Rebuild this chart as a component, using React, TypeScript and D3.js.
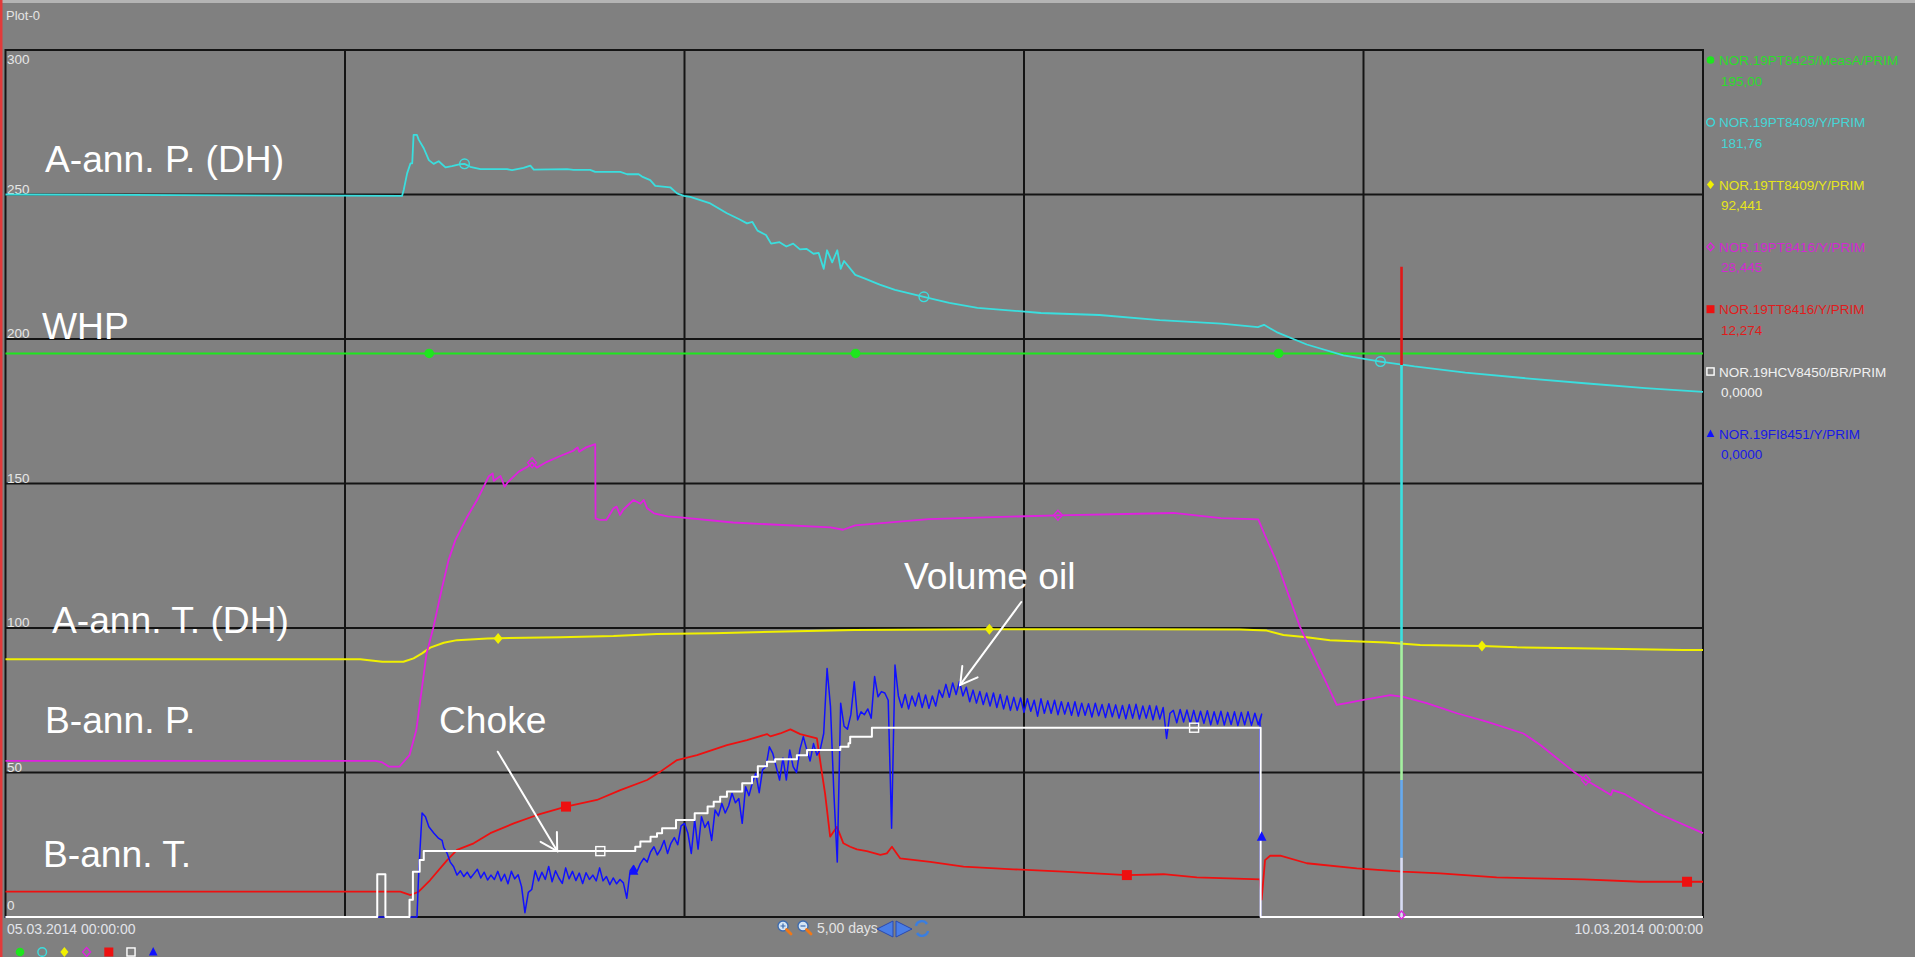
import React from "react";
import * as d3 from "d3";

// ---------- DATA ----------
const yTicks = [0, 50, 100, 150, 200, 250, 300];
const xGridDays = [1, 2, 3, 4];
const startLabel = "05.03.2014 00:00:00";
const endLabel = "10.03.2014 00:00:00";
const spanLabel = "5,00 days";
const plotTitle = "Plot-0";

const legendNames = [
  "NOR.19PT8425/MeasA/PRIM",
  "NOR.19PT8409/Y/PRIM",
  "NOR.19TT8409/Y/PRIM",
  "NOR.19PT8416/Y/PRIM",
  "NOR.19TT8416/Y/PRIM",
  "NOR.19HCV8450/BR/PRIM",
  "NOR.19FI8451/Y/PRIM",
];
const legendValues = ["195,00", "181,76", "92,441", "28,445", "12,274", "0,0000", "0,0000"];

// [day since 05.03.2014, value]
const whpData: number[][] = [[0, 195], [5, 195]];

const aannPData: number[][] = [
  [0, 250], [1.168, 249.5], [1.173, 251.6], [1.183, 257.3], [1.193, 260.8], [1.198, 260.8],
  [1.202, 270.6], [1.212, 270.6], [1.217, 269], [1.232, 266], [1.247, 261.9], [1.261, 260.6],
  [1.276, 261.5], [1.296, 259.4], [1.315, 259.8], [1.34, 260.5], [1.352, 260.6], [1.369, 259.6],
  [1.399, 258.8], [1.477, 258.8], [1.492, 258.4], [1.526, 259.2], [1.546, 260], [1.556, 258.6],
  [1.654, 258.8], [1.673, 258.5], [1.722, 258.5], [1.737, 257.8], [1.811, 257.8], [1.831, 257],
  [1.865, 257], [1.875, 256.2], [1.899, 255], [1.914, 253], [1.958, 252.5], [1.978, 250.4],
  [1.998, 249.5], [2.017, 249.2], [2.076, 246.9], [2.125, 243.5], [2.16, 241.5], [2.184, 240],
  [2.2, 240.5], [2.215, 237.5], [2.24, 236], [2.255, 233], [2.28, 233.5], [2.3, 232],
  [2.32, 233], [2.34, 231], [2.359, 231.2], [2.38, 229.5], [2.395, 229.8], [2.41, 224.3],
  [2.42, 230.7], [2.435, 226.5], [2.45, 230.7], [2.46, 224.3], [2.47, 227], [2.503, 222.2],
  [2.53, 221], [2.575, 218.8], [2.62, 217], [2.705, 214.6], [2.78, 212.5], [2.863, 210.8],
  [3.05, 209], [3.222, 208.3], [3.4, 206.5], [3.581, 205.3], [3.689, 204.1], [3.707, 204.9],
  [3.744, 202.4], [3.833, 198.1], [3.941, 194.3], [4.05, 192.2], [4.15, 190.5], [4.3, 188.4],
  [4.48, 186.4], [4.66, 184.6], [4.83, 183], [5, 181.7],
];

const aannTData: number[][] = [
  [0, 89.2], [1.045, 89.2], [1.11, 88.3], [1.172, 88.3], [1.202, 89.5], [1.227, 91.2],
  [1.251, 93.2], [1.291, 94.9], [1.33, 95.8], [1.42, 96.4], [1.634, 96.8], [1.791, 97.2],
  [1.919, 97.9], [2.086, 98.2], [2.5, 99.3], [2.9, 99.6], [3.3, 99.6], [3.636, 99.5],
  [3.715, 99.1], [3.764, 97.6], [3.833, 96.8], [3.901, 95.8], [3.99, 95.3], [4.068, 95],
  [4.167, 94.1], [4.349, 93.8], [4.452, 93.3], [4.629, 93], [4.94, 92.4], [5, 92.4],
];

const bannPData: number[][] = [
  [0, 54], [1.09, 54], [1.11, 53.5], [1.13, 52], [1.16, 52], [1.19, 56], [1.21, 64.7],
  [1.24, 91], [1.26, 100], [1.286, 114], [1.305, 123.5], [1.325, 130.4], [1.36, 138.5],
  [1.389, 144.3], [1.404, 147.8], [1.423, 152.4], [1.435, 153.5], [1.438, 150.9],
  [1.458, 152.6], [1.47, 148.9], [1.48, 150.5], [1.512, 154.1], [1.54, 156], [1.551, 157.2],
  [1.565, 155.5], [1.595, 157.5], [1.634, 159.5], [1.673, 161.4], [1.685, 162.5], [1.69, 161],
  [1.71, 162.5], [1.737, 163.6], [1.738, 137.9], [1.75, 137.4], [1.77, 137.4], [1.791, 141.4],
  [1.8, 142], [1.81, 139.1], [1.82, 141], [1.85, 144.3], [1.87, 143], [1.88, 144.3],
  [1.89, 141.4], [1.91, 139.7], [1.95, 138.6], [1.988, 138.3], [2.143, 136.5], [2.43, 134.8],
  [2.467, 134], [2.503, 135.5], [2.719, 137.7], [3.1, 139], [3.44, 139.8], [3.58, 138],
  [3.69, 137.6], [3.71, 132], [3.744, 123], [3.813, 100.4], [3.921, 73.4], [3.95, 74],
  [4.0, 75.1], [4.079, 76.8], [4.117, 76.2], [4.186, 74], [4.275, 70.5], [4.363, 67.6],
  [4.471, 63.5], [4.521, 59.5], [4.619, 50.3], [4.655, 47.4], [4.729, 42.2], [4.734, 43.9],
  [4.77, 42.5], [4.866, 35.9], [5, 29],
];

const bannTData: number[][] = [
  [0, 8.75], [1.163, 8.75], [1.193, 7.6], [1.217, 8.75], [1.251, 12.8], [1.301, 19.7],
  [1.33, 23.2], [1.379, 25.5], [1.428, 29], [1.497, 32.4], [1.566, 35.3], [1.651, 38.2],
  [1.742, 40.5], [1.811, 43.9], [1.89, 47.4], [1.929, 50.3], [1.978, 54.3], [2.037, 56],
  [2.125, 59.5], [2.184, 61.2], [2.243, 63.3], [2.253, 62.5], [2.282, 63.5], [2.312, 64.9],
  [2.341, 63.3], [2.39, 61.8], [2.405, 49.7], [2.414, 42.8], [2.429, 27.8], [2.449, 31.2],
  [2.468, 25.5], [2.488, 24.3], [2.508, 23.4], [2.537, 22.8], [2.577, 21.5], [2.596, 22],
  [2.611, 24.3], [2.635, 20.3], [2.724, 19.1], [2.822, 17.4], [2.969, 16.5], [3.116, 15.7],
  [3.303, 14.5], [3.411, 14.8], [3.509, 13.7], [3.695, 13.0], [3.7, 6], [3.71, 19.7],
  [3.725, 21.2], [3.755, 21.2], [3.833, 18.6], [3.98, 16.8], [4.115, 15.7], [4.226, 15.1],
  [4.392, 13.7], [4.648, 13.0], [4.815, 12.2], [5, 12.2],
];

// step points (value holds until next point)
const chokeData: number[][] = [
  [0, 0], [1.095, 14.8], [1.119, 0], [1.19, 6], [1.2, 15.7], [1.22, 19.7], [1.232, 22.8],
  [1.855, 24.3], [1.87, 26.1], [1.9, 27.8], [1.919, 29], [1.934, 30.7], [1.975, 33.6],
  [2.03, 35.9], [2.068, 38.2], [2.086, 39.9], [2.105, 41.6], [2.125, 43.4], [2.17, 46.3],
  [2.199, 48.5], [2.216, 52.2], [2.243, 53.7], [2.267, 54.6], [2.331, 56], [2.361, 57.8],
  [2.459, 58.9], [2.483, 60.1], [2.488, 62.4], [2.552, 65.5], [3.697, 0], [5, 0],
];

// volume oil: start, sampled section (every 0.01 day from 1.33), end
const volHead: number[][] = [
  [0, 0], [1.212, 0], [1.217, 15], [1.227, 36], [1.237, 34.7], [1.247, 31.2], [1.262, 29],
  [1.276, 27.2], [1.286, 26.5], [1.291, 24], [1.301, 22], [1.31, 19], [1.32, 17.4],
];
const volSampleStart = 1.33;
const volSampleStep = 0.01;
const volSamples: number[] = [
  14.5, 16, 14, 15.5, 13.5, 15, 16.5, 13.5, 15.5, 12.8,
  14.5, 13, 15.8, 12.5, 14.8, 11.5, 15.8, 13.2, 14.6, 10.5,
  1.5, 8.5, 9.5, 16, 12.5, 15.5, 13, 17.5, 12.2, 16,
  13.5, 11.6, 17, 13.2, 15.8, 12.6, 15.2, 11.6, 15.3, 13,
  14.5, 12.5, 17, 12.5, 14, 11.2, 13.5, 11.5, 13, 11.8,
  6.5, 16, 17.8, 15.7, 18.5, 20.3, 19, 22.5, 24.3, 21.5,
  23.5, 26.5, 22, 25.5, 27.5, 25, 31.5, 32.4, 29, 22,
  33.6, 23.5, 34.7, 31, 33, 26.5, 37, 35, 39.3, 36,
  38.5, 42.8, 39.5, 41, 32.4, 45.1, 42, 46.5, 49.7, 43,
  51, 52, 58.9, 56.6, 52, 47.4, 55, 47.4, 57.8, 52,
  50, 58, 62.4, 58, 54, 60, 56, 58, 63.5, 86,
  72.8, 42.8, 19, 74, 66, 65, 70, 81.4, 68.2, 71,
  70, 72, 68.8, 83.2, 76.2, 78, 77.5, 75, 30.7, 87.2,
  // 2.62 ..
  76.5, 72.5, 77, 72, 76.5, 73, 77.5, 72.5, 76.8, 72.2,
  76.5, 73, 78.5, 76, 80.5, 76, 81, 77, 81.5, 76.5,
  79.5, 74.5, 78.5, 74, 78, 73.5, 77.5, 73, 77.5, 72.5,
  77, 72, 76.5, 71.5, 76, 71.5, 75.8, 70.8, 75.5, 71.2,
  75, 69.5, 75.5, 70.5, 74.8, 70.5, 75, 70, 74.5, 70.2,
  74.2, 69.8, 74.5, 69.5, 74, 69.8, 73.8, 69.2, 74, 69.6,
  73.5, 69, 73.8, 69.3, 73.4, 68.8, 73.2, 68.6, 73.5, 68.8,
  73.6, 68.5, 73, 68.8, 73.2, 68.2, 73, 68.5, 72.5, 61.8,
  70.5, 71.5, 67.2, 71.8, 67.5, 71.6, 67, 71.5, 66.8, 71.2,
  67, 71.4, 66.5, 71, 66.8, 71.2, 66.4, 70.8, 66.6, 71,
  66.2, 70.8, 66.5, 71, 66.3, 70.5, 66.5, 70.2,
];
const volTail: number[][] = [[3.695, 67.6], [3.697, 0], [5, 0]];

const whpMarkers: number[][] = [[1.248, 195], [2.504, 195], [3.75, 195]];
const aannPMarkers: number[][] = [[1.352, 260.6], [2.705, 214.6], [4.05, 192.2]];
const aannTMarkers: number[][] = [[1.451, 96.4], [2.898, 99.6], [4.349, 93.8]];
const bannPMarkers: number[][] = [[1.551, 157.2], [3.1, 139], [4.655, 47.4]];
const bannTMarkers: number[][] = [[1.651, 38.2], [3.303, 14.5], [4.953, 12.2]];
const chokeMarkers: number[][] = [[1.752, 22.8], [3.501, 65.5]];
const volMarkers: number[][] = [[1.85, 16], [3.7, 27.8]];

// vertical cursor spike at one instant: [fromValue, toValue]
const cursorDay = 4.112;
const cursorSegments: number[][] = [[225, 191], [191, 95.5], [95.5, 47.4], [47.4, 20.5], [20.5, 0]];

// arrow annotations in data coords
const arrowChoke = { from: [1.45, 57.2], to: [1.625, 22.8] };
const arrowVol = { from: [2.992, 109], to: [2.812, 80.3] };

// ---------- STYLE ----------
const W = 1915;
const H = 957;
const P = { left: 5.5, right: 1703, top: 50, bottom: 917 };
const BG = "#808080";
const FONT = "'Liberation Sans', Arial, Helvetica, sans-serif";

const colors = ["#1ee61e", "#3adede", "#f0f000", "#e020e0", "#ee1010", "#ffffff", "#1010ff"];
const textColors = ["#2bdc2b", "#45d6d6", "#e6e61a", "#d22ad2", "#e01c1c", "#f0f0f0", "#1818e8"];
const markerTypes = ["dot", "circle", "fdiamond", "diamond", "fsquare", "square", "triangle"];
const cursorColors = ["#e01818", "#3ae0e0", "#a4f0a0", "#66aaf0", "#d8dcf4"];
const drawOrder = [0, 1, 2, 3, 4, 6, 5];

function Marker({ type, x, y, color, s = 1 }: { type: string; x: number; y: number; color: string; s?: number }) {
  switch (type) {
    case "dot":
      return <circle cx={x} cy={y} r={4.8 * s} fill={color} />;
    case "circle":
      return <circle cx={x} cy={y} r={4.8 * s} fill="none" stroke={color} strokeWidth={1.4} />;
    case "fdiamond":
      return (
        <path d={`M${x},${y - 5.5 * s}L${x + 4.5 * s},${y}L${x},${y + 5.5 * s}L${x - 4.5 * s},${y}Z`} fill={color} />
      );
    case "diamond":
      return (
        <path
          d={`M${x},${y - 5 * s}L${x + 4.5 * s},${y}L${x},${y + 5 * s}L${x - 4.5 * s},${y}Z`}
          fill="none"
          stroke={color}
          strokeWidth={1.3}
        />
      );
    case "fsquare":
      return <rect x={x - 5 * s} y={y - 5 * s} width={10 * s} height={10 * s} fill={color} />;
    case "square":
      return (
        <rect x={x - 4.5 * s} y={y - 4.5 * s} width={9 * s} height={9 * s} fill="none" stroke={color} strokeWidth={1.4} />
      );
    case "triangle":
      return <path d={`M${x},${y - 5.5 * s}L${x + 4.8 * s},${y + 4 * s}L${x - 4.8 * s},${y + 4 * s}Z`} fill={color} />;
  }
  return null;
}

export default function App() {
  const x = d3.scaleLinear().domain([0, 5]).range([P.left, P.right]);
  const y = d3.scaleLinear().domain([0, 300]).range([P.bottom, P.top]);

  const volData: number[][] = [
    ...volHead,
    ...volSamples.map((v, i) => [volSampleStart + i * volSampleStep, v]),
    ...volTail,
  ];

  const line = d3
    .line<number[]>()
    .x((d) => x(d[0]))
    .y((d) => y(d[1]));
  const stepLine = d3
    .line<number[]>()
    .x((d) => x(d[0]))
    .y((d) => y(d[1]))
    .curve(d3.curveStepAfter);

  const series = [
    { data: whpData, markers: whpMarkers, step: false, w: 2 },
    { data: aannPData, markers: aannPMarkers, step: false, w: 1.8 },
    { data: aannTData, markers: aannTMarkers, step: false, w: 2 },
    { data: bannPData, markers: bannPMarkers, step: false, w: 1.8 },
    { data: bannTData, markers: bannTMarkers, step: false, w: 1.8 },
    { data: chokeData, markers: chokeMarkers, step: true, w: 2 },
    { data: volData, markers: volMarkers, step: false, w: 1.5 },
  ];

  const arrow = (a: { from: number[]; to: number[] }, key: string) => {
    const x1 = x(a.from[0]);
    const y1 = y(a.from[1]);
    const x2 = x(a.to[0]);
    const y2 = y(a.to[1]);
    const ang = Math.atan2(y1 - y2, x1 - x2);
    const L = 19;
    const wa = (30 * Math.PI) / 180;
    const p1 = [x2 + L * Math.cos(ang - wa), y2 + L * Math.sin(ang - wa)];
    const p2 = [x2 + L * Math.cos(ang + wa), y2 + L * Math.sin(ang + wa)];
    return (
      <g key={key} stroke="#ffffff" strokeWidth={2} fill="none" strokeLinecap="round">
        <line x1={x1} y1={y1} x2={x2} y2={y2} />
        <path d={`M${p1[0]},${p1[1]}L${x2},${y2}L${p2[0]},${p2[1]}`} />
      </g>
    );
  };

  const labelY = (v: number) => {
    if (v === 300) return y(v) + 14;
    if (v === 0) return y(v) - 7;
    return y(v) - 1;
  };

  const cx = x(cursorDay);

  return (
    <svg
      width={W}
      height={H}
      style={{ position: "absolute", left: 0, top: 0, display: "block", fontFamily: FONT }}
    >
      <rect x={0} y={0} width={W} height={H} fill={BG} />
      <rect x={0} y={0} width={W} height={3} fill="#b4b4b4" />
      <rect x={0} y={0} width={2.5} height={H} fill="#e23a3a" />

      <text x={6} y={20} fontSize={13} fill="#e4e4e4">
        {plotTitle}
      </text>

      {/* grid */}
      <g stroke="#141414" strokeWidth={2}>
        {yTicks
          .filter((v) => v > 0 && v < 300)
          .map((v) => (
            <line key={"gy" + v} x1={P.left} x2={P.right} y1={y(v)} y2={y(v)} />
          ))}
        {xGridDays.map((d) => (
          <line key={"gx" + d} x1={x(d)} x2={x(d)} y1={P.top} y2={P.bottom} />
        ))}
        <rect x={P.left} y={P.top} width={P.right - P.left} height={P.bottom - P.top} fill="none" />
      </g>

      {/* y labels */}
      {yTicks.map((v) => (
        <text key={"yl" + v} x={7} y={labelY(v)} fontSize={13.5} fill="#e6e6e6">
          {v}
        </text>
      ))}

      {/* series */}
      <g fill="none" strokeLinejoin="round">
        {drawOrder.map((i) => {
          const s = series[i];
          return (
            <path key={"s" + i} d={(s.step ? stepLine : line)(s.data) || ""} stroke={colors[i]} strokeWidth={s.w} />
          );
        })}
      </g>

      {/* cursor spike */}
      {cursorSegments.map((seg, i) => (
        <line key={"cs" + i} x1={cx} x2={cx} y1={y(seg[0])} y2={y(seg[1])} stroke={cursorColors[i]} strokeWidth={2.6} />
      ))}
      <Marker type="diamond" x={cx} y={y(0) - 2} color={colors[3]} s={0.8} />

      {/* markers */}
      {series.map((s, i) =>
        s.markers.map((m, j) => (
          <Marker key={"m" + i + "-" + j} type={markerTypes[i]} x={x(m[0])} y={y(m[1])} color={colors[i]} />
        ))
      )}

      {/* annotations */}
      <g fill="#ffffff" fontSize={37.2}>
        <text x={45} y={172}>A-ann. P. (DH)</text>
        <text x={42} y={339}>WHP</text>
        <text x={52} y={633}>A-ann. T. (DH)</text>
        <text x={45} y={733}>B-ann. P.</text>
        <text x={439} y={733}>Choke</text>
        <text x={43} y={867}>B-ann. T.</text>
        <text x={904} y={589}>Volume oil</text>
      </g>
      {arrow(arrowChoke, "a1")}
      {arrow(arrowVol, "a2")}

      {/* legend */}
      {legendNames.map((n, i) => {
        const ly = 65 + i * 62.3;
        return (
          <g key={"lg" + i}>
            <Marker type={markerTypes[i]} x={1710.5} y={ly - 5} color={colors[i]} s={0.8} />
            <text x={1719} y={ly} fontSize={13.5} fill={textColors[i]}>
              {n}
            </text>
            <text x={1721} y={ly + 20.5} fontSize={13.5} fill={textColors[i]}>
              {legendValues[i]}
            </text>
          </g>
        );
      })}

      {/* bottom axis labels */}
      <text x={7} y={934} fontSize={14} fill="#e2e4ea">
        {startLabel}
      </text>
      <text x={P.right} y={934} fontSize={14} fill="#e2e4ea" textAnchor="end">
        {endLabel}
      </text>

      {/* center controls */}
      <g>
        <circle cx={783} cy={926} r={5} fill="#d4e4f4" stroke="#3a6ab0" strokeWidth={1.3} />
        <path d="M780.5,926H785.5M783,923.5V928.5" stroke="#3a6ab0" strokeWidth={1.2} />
        <line x1={786.5} y1={929.5} x2={791} y2={934} stroke="#f07818" strokeWidth={2.8} strokeLinecap="round" />
        <circle cx={803} cy={926} r={5} fill="#d4e4f4" stroke="#3a6ab0" strokeWidth={1.3} />
        <path d="M800.5,926H805.5" stroke="#3a6ab0" strokeWidth={1.2} />
        <line x1={806.5} y1={929.5} x2={811} y2={934} stroke="#f07818" strokeWidth={2.8} strokeLinecap="round" />
        <text x={817} y={933} fontSize={14} fill="#e4e4e4">
          {spanLabel}
        </text>
        <path d="M877,929L893,921V937Z" fill="#4a7ee6" stroke="#2a4ab0" strokeWidth={1} />
        <path d="M896,921V937L912,929Z" fill="#4a7ee6" stroke="#2a4ab0" strokeWidth={1} />
        <path d="M916,926A6,6 0 0 1 927,924" fill="none" stroke="#3a7ee0" strokeWidth={2.4} />
        <path d="M928,931A6,6 0 0 1 917,933" fill="none" stroke="#3a7ee0" strokeWidth={2.4} />
      </g>

      {/* bottom marker row */}
      {markerTypes.map((t, i) => (
        <Marker key={"bm" + i} type={t} x={20 + i * 22.2} y={952} color={colors[i]} s={0.9} />
      ))}
    </svg>
  );
}
